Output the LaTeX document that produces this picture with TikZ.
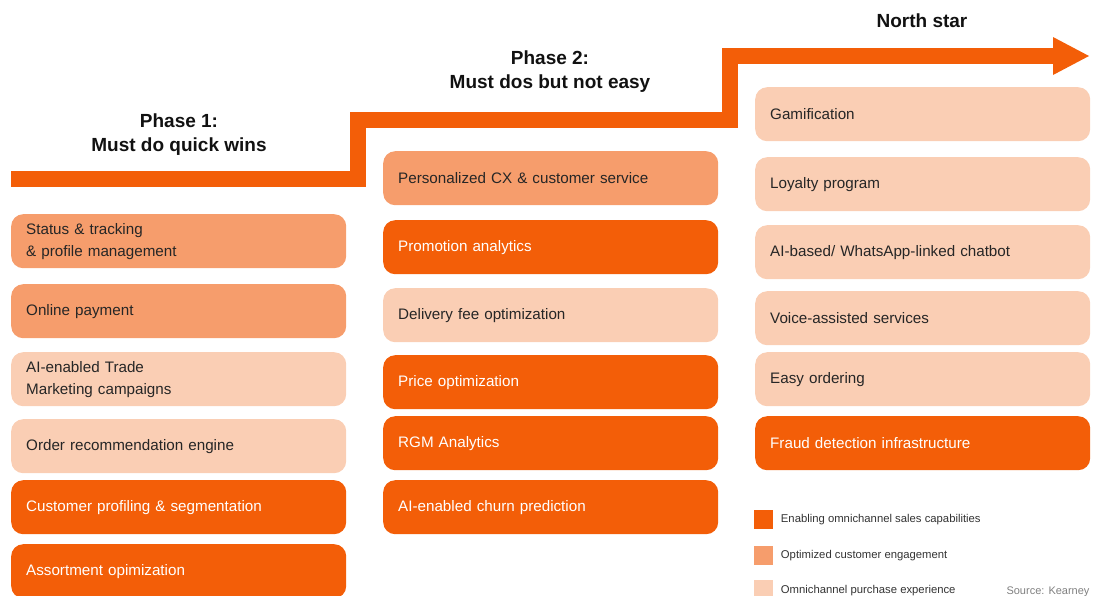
\documentclass[tikz,border=0pt]{standalone}
\usepackage{fontspec}
\setmainfont{Liberation Sans}
\definecolor{darkor}{RGB}{243,94,8}
\definecolor{midor}{RGB}{246,157,108}
\definecolor{lightor}{RGB}{250,206,180}
\definecolor{headtxt}{RGB}{17,17,17}
\begin{document}
\begin{tikzpicture}[x=1pt,y=-1pt,
  box/.style={rounded corners=12pt,minimum width=335pt,minimum height=54pt,text width=305pt,align=left,inner xsep=15pt,anchor=north west,font=\fontsize{15.2}{22}\selectfont},
  dark/.style={box,fill=darkor,text=white},
  mid/.style={box,fill=midor,text=black!85},
  light/.style={box,fill=lightor,text=black!85},
  head/.style={align=center,text=headtxt,font=\bfseries\fontsize{19}{24}\selectfont},
  legbox/.style={minimum size=19pt,inner sep=0pt,anchor=north west},
  legtxt/.style={anchor=west,font=\fontsize{11.3}{12}\selectfont,text=black!80}]
  \useasboundingbox (0,0) rectangle (1096,595);
  % the staircase arrow
  \draw[line width=16pt,darkor] (11,179) -- (358,179) -- (358,120) -- (730,120) -- (730,56) -- (1054,56);
  \fill[darkor] (1053,37) -- (1089,56) -- (1053,75) -- cycle;
  \node[head] (ph1) at (179,135) {Phase 1:\\Must do quick wins};
  \node[head] (ph2) at (550,72) {Phase 2:\\Must dos but not easy};
  \node[head] (ns) at (922,21) {North star};
  % phase 1
  \node[mid] (p1a) at (11,214) {Status \& tracking\\\& profile management};
  \node[mid] (p1b) at (11,284) {Online payment};
  \node[light] (p1c) at (11,352) {AI-enabled Trade\\Marketing campaigns};
  \node[light] (p1d) at (11,419) {Order recommendation engine};
  \node[dark] (p1e) at (11,480) {Customer profiling \& segmentation};
  \node[dark] (p1f) at (11,544) {Assortment opimization};
  % phase 2
  \node[mid] (p2a) at (383,151) {Personalized CX \& customer service};
  \node[dark] (p2b) at (383,220) {Promotion analytics};
  \node[light] (p2c) at (383,288) {Delivery fee optimization};
  \node[dark] (p2d) at (383,355) {Price optimization};
  \node[dark] (p2e) at (383,416) {RGM Analytics};
  \node[dark] (p2f) at (383,480) {AI-enabled churn prediction};
  % north star
  \node[light] (p3a) at (755,87) {Gamification};
  \node[light] (p3b) at (755,157) {Loyalty program};
  \node[light] (p3c) at (755,225) {AI-based/ WhatsApp-linked chatbot};
  \node[light] (p3d) at (755,291) {Voice-assisted services};
  \node[light] (p3e) at (755,352) {Easy ordering};
  \node[dark] (p3f) at (755,416) {Fraud detection infrastructure};
  % legend
  \node[legbox,fill=darkor] (lg1) at (754,510) {};
  \node[legtxt] at ([xshift=4pt]lg1.east) {Enabling omnichannel sales capabilities};
  \node[legbox,fill=midor] (lg2) at (754,546) {};
  \node[legtxt] at ([xshift=4pt]lg2.east) {Optimized customer engagement};
  \node[legbox,fill=lightor] (lg3) at (754,580) {};
  \node[legtxt] at ([xshift=4pt,yshift=-1pt]lg3.east) {Omnichannel purchase experience};
  \node[anchor=west,font=\fontsize{11}{12}\selectfont,text=black!50] (src) at (1003,592) {Source: Kearney};
\end{tikzpicture}
\end{document}
